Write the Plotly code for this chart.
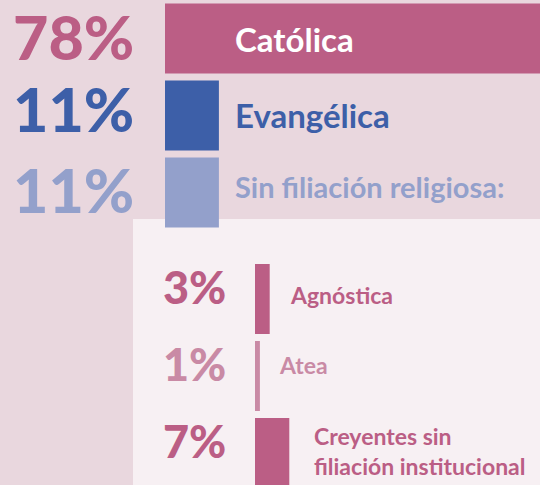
import plotly.graph_objects as go

# ---- data ----
main_categories = ["Católica", "Evangélica", "Sin filiación religiosa:"]
main_values = [78, 11, 11]
main_labels = ["78%", "11%", "11%"]

sub_categories = ["Agnóstica", "Atea", "Creyentes sin<br>filiación institucional"]
sub_values = [3, 1, 7]
sub_labels = ["3%", "1%", "7%"]

# ---- styles ----
W, H = 540, 485
BG = "#E9D7DE"
PANEL = "#F7F0F3"
main_colors = ["#BB5E85", "#3D5FA8", "#93A0CB"]
main_text_colors = ["#FFFFFF", "#3D5FA8", "#93A0CB"]
main_text_sizes = [33, 33, 29]
main_pct_yshift = [2, 7, 3]
main_text_yshift = [0, 1, 6]
sub_colors = ["#BB5E85", "#C98AA5", "#BB5E85"]
sub_label_xshift = [18, 17, 23]
sub_label_yshift = [4, 11, 2]
sub_pct_yshift = [12, 12, 12]
FONT = "Lato"
PX_PER_PCT = 4.9

fig = go.Figure()
fig.add_trace(go.Bar(
    x=main_values, y=main_categories, orientation="h",
    marker=dict(color=main_colors, line=dict(width=0)),
    xaxis="x", yaxis="y", hoverinfo="skip", showlegend=False,
))
fig.add_trace(go.Bar(
    x=sub_values, y=sub_categories, orientation="h",
    marker=dict(color=sub_colors, line=dict(width=0)),
    xaxis="x2", yaxis="y2", hoverinfo="skip", showlegend=False,
))

x1_left = 165 / W
x2_left = 255 / W
top_dom = [254 / H, 1.0]
bot_dom = [0.0, 224.5 / H]

annotations = []
for cat, lab, col, ys in zip(main_categories, main_labels, main_colors, main_pct_yshift):
    annotations.append(dict(
        x=136 / W, xref="paper", y=cat, yref="y", text=lab, showarrow=False,
        xanchor="right", yanchor="middle", yshift=ys,
        font=dict(family=FONT, size=61, color=col, weight=900)))
for cat, tcol, tsize, ys in zip(main_categories, main_text_colors, main_text_sizes,
                                main_text_yshift):
    annotations.append(dict(
        x=233 / W, xref="paper", y=cat, yref="y", text=cat, showarrow=False,
        xanchor="left", yanchor="middle", yshift=ys,
        font=dict(family=FONT, size=tsize, color=tcol, weight=700)))
for cat, val, lab, col, xs, ys, pys in zip(sub_categories, sub_values, sub_labels,
                                           sub_colors, sub_label_xshift,
                                           sub_label_yshift, sub_pct_yshift):
    annotations.append(dict(
        x=228 / W, xref="paper", y=cat, yref="y2", text=lab, showarrow=False,
        xanchor="right", yanchor="middle", yshift=pys,
        font=dict(family=FONT, size=45, color=col, weight=900)))
    annotations.append(dict(
        x=val, xref="x2", y=cat, yref="y2", text=cat, showarrow=False,
        xanchor="left", yanchor="middle", xshift=xs, yshift=ys, align="left",
        font=dict(family=FONT, size=23, color=col, weight=700)))

fig.update_layout(
    width=W, height=H,
    margin=dict(l=0, r=0, t=0, b=0),
    paper_bgcolor=BG, plot_bgcolor="rgba(0,0,0,0)",
    bargap=7 / 77,
    xaxis=dict(domain=[x1_left, 1], range=[0, (W - 165) / PX_PER_PCT],
               visible=False, fixedrange=True),
    yaxis=dict(domain=top_dom, type="category", categoryarray=main_categories,
               range=[2.5, -0.5], visible=False, fixedrange=True),
    xaxis2=dict(domain=[x2_left, 1], range=[0, (W - 255) / PX_PER_PCT],
                visible=False, fixedrange=True, anchor="y2"),
    yaxis2=dict(domain=bot_dom, type="category", categoryarray=sub_categories,
                range=[(224.5 / 77) - 0.5, -0.5], visible=False, fixedrange=True,
                anchor="x2"),
    shapes=[dict(type="rect", xref="paper", yref="paper",
                 x0=133 / W, x1=1, y0=0, y1=(H - 219) / H,
                 fillcolor=PANEL, line=dict(width=0), layer="below")],
    annotations=annotations,
)

fig.write_html("out.html", config={"displayModeBar": False},
               post_script="document.body.style.margin='0';document.body.style.overflow='hidden';")
